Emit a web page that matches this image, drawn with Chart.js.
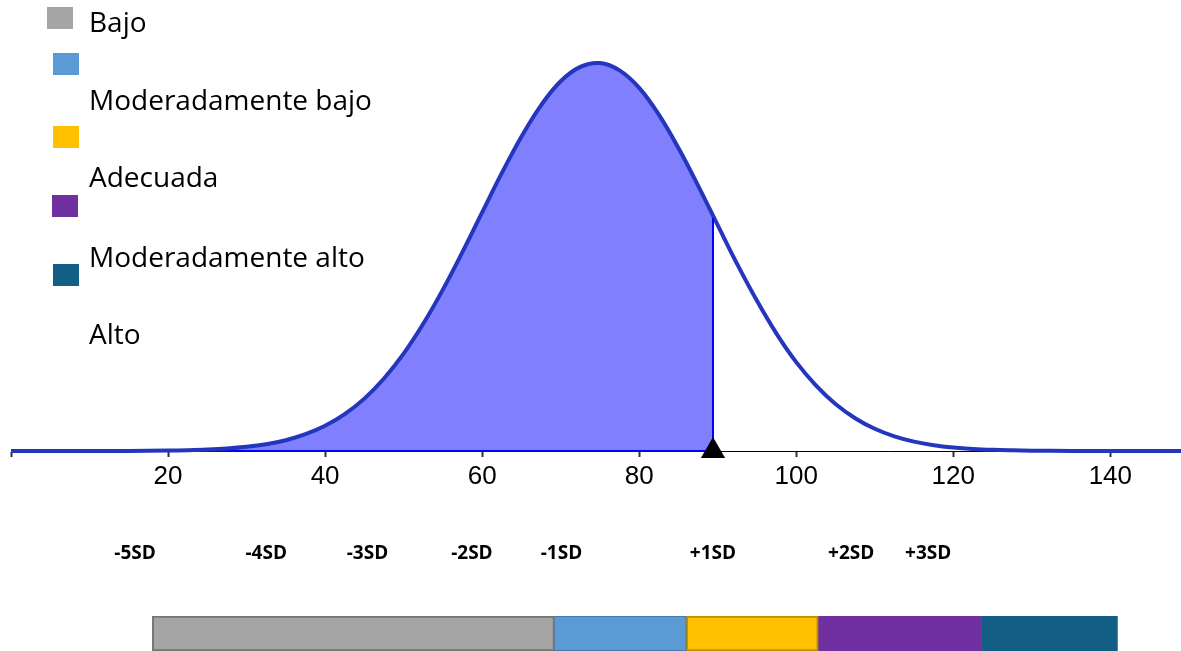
<!DOCTYPE html>
<html>
<head>
<meta charset="utf-8">
<title>Distribución</title>
<script src="https://cdn.jsdelivr.net/npm/chart.js@4"></script>
<style>
  body { margin: 0; background: #fff; width: 1181px; height: 651px; overflow: hidden; position: relative; }
  #curveChart { position: absolute; left: 0; top: 0; }
  #bandChart { position: absolute; left: 0; top: 600px; }
</style>
</head>
<body>
<canvas id="curveChart" width="1181" height="590"></canvas>
<canvas id="bandChart" width="1181" height="51"></canvas>
<script>
// Curve heights (1 = peak)
const xValues = [0, 5, 10, 15, 20, 22.5, 25, 27.5, 30, 32.5, 35, 37.5, 40, 42.5, 45, 47.5,
                 50, 52.5, 55, 57.5, 60, 62.5, 65, 67.5, 70, 72.5, 75, 77.5, 80, 82.5, 85, 87.5,
                 90, 92.5, 95, 97.5, 100, 102.5, 105, 107.5, 110, 112.5, 115, 117.5, 120, 122.5,
                 125, 127.5, 130, 135, 140, 145, 150];
const yValues = [0, 0, 0.0001, 0.0003, 0.0011, 0.002, 0.0036, 0.0063, 0.0107, 0.0175, 0.0278, 0.0432, 0.065, 0.095, 0.135, 0.187,
                 0.251, 0.328, 0.416, 0.513, 0.615, 0.716, 0.81, 0.891, 0.953, 0.99, 1.0, 0.981, 0.936, 0.867, 0.781, 0.684,
                 0.582, 0.481, 0.387, 0.302, 0.229, 0.169, 0.121, 0.0845, 0.0572, 0.0377, 0.0241, 0.015, 0.0091, 0.0053,
                 0.003, 0.0017, 0.0009, 0.0002, 0, 0, 0];

// Marked score and the curve height there
const cutoff = 89.4;
const cutoffHeight = 0.60;

const tickValues = [0, 20, 40, 60, 80, 100, 120, 140];

const sdLabels = ['-5SD', '-4SD', '-3SD', '-2SD', '-1SD', '+1SD', '+2SD', '+3SD'];
const sdPositions = [15.8, 32.5, 45.4, 58.7, 70.1, 89.4, 107.0, 116.8];

const legendLabels = ['Bajo', 'Moderadamente bajo', 'Adecuada', 'Moderadamente alto', 'Alto'];
const legendColors = ['#a5a5a5', '#5b9bd5', '#ffc000', '#7030a0', '#125e85'];

// Coloured band under the chart
const bandStarts = [18.0, 69.2, 86.0, 102.8, 123.6];
const bandEnds = [69.2, 86.0, 102.8, 123.6, 140.9];

const CURVE_BLUE = '#2336bd';
const FILL_BLUE = '#8080ff';
const X_MIN = 0, X_MAX = 149;

const curvePoints = xValues.map((x, i) => ({ x: x, y: yValues[i] }));
const filledPoints = curvePoints.filter(p => p.x < cutoff).concat([{ x: cutoff, y: cutoffHeight }]);

// Legend (squares and labels don't line up in the original) + SD labels
const annotations = {
  id: 'annotations',
  afterDraw(chart) {
    const ctx = chart.ctx;
    const xs = chart.scales.x;
    ctx.save();
    const squareTops = [7, 53, 126, 195, 264];
    const squareLefts = [47, 53, 53, 52, 53];
    const textBaselines = [32, 110, 187, 267, 344];
    legendLabels.forEach((label, i) => {
      ctx.fillStyle = legendColors[i];
      ctx.fillRect(squareLefts[i], squareTops[i], 26, 22);
      ctx.fillStyle = '#000';
      ctx.font = '28px "Open Sans"';
      ctx.textBaseline = 'alphabetic';
      ctx.textAlign = 'left';
      ctx.fillText(label, 89, textBaselines[i]);
    });
    ctx.font = 'bold 19px "Open Sans"';
    ctx.textAlign = 'center';
    sdLabels.forEach((label, i) => {
      ctx.fillText(label, xs.getPixelForValue(sdPositions[i]), 559);
    });
    ctx.restore();
  }
};

new Chart(document.getElementById('curveChart'), {
  type: 'line',
  data: {
    datasets: [
      {
        type: 'scatter',
        data: [{ x: cutoff, y: 0 }],
        pointStyle: 'triangle',
        pointRadius: 14,
        backgroundColor: '#000',
        borderColor: '#000',
        borderWidth: 0,
        clip: false
      },
      {
        data: [{ x: cutoff, y: 0 }, { x: cutoff, y: cutoffHeight }],
        borderColor: '#0000ff',
        borderWidth: 2,
        pointRadius: 0,
        fill: false,
        clip: false
      },
      {
        data: curvePoints,
        borderColor: CURVE_BLUE,
        borderWidth: 4,
        pointRadius: 0,
        tension: 0.4,
        fill: false,
        clip: false
      },
      {
        data: [{ x: X_MIN, y: 0 }, { x: cutoff, y: 0 }],
        borderColor: '#0000ff',
        borderWidth: 2,
        pointRadius: 0,
        fill: false,
        clip: false
      },
      {
        data: filledPoints,
        borderWidth: 0,
        borderColor: 'rgba(0,0,0,0)',
        backgroundColor: FILL_BLUE,
        pointRadius: 0,
        tension: 0.4,
        fill: 'origin'
      }
    ]
  },
  options: {
    responsive: false,
    animation: false,
    layout: { autoPadding: false, padding: { left: 11, right: 0, top: 0, bottom: 98 } },
    scales: {
      x: {
        type: 'linear',
        min: X_MIN,
        max: X_MAX,
        afterBuildTicks: scale => { scale.ticks = tickValues.map(v => ({ value: v })); },
        afterFit: scale => { scale.height = 41; scale.paddingLeft = 0; scale.paddingRight = 0; },
        ticks: {
          callback: v => (v === 0 ? '' : v),
          font: { family: '"Liberation Sans", Arial, sans-serif', size: 26 },
          color: '#000',
          padding: 4,
          autoSkip: false,
          maxRotation: 0
        },
        grid: { drawOnChartArea: false, drawTicks: true, tickLength: 6, tickWidth: 2, color: '#333' },
        border: { display: true, color: '#000', width: 1 }
      },
      y: { display: false, min: 0, max: 1.1624 }
    },
    plugins: { legend: { display: false }, tooltip: { enabled: false } }
  },
  plugins: [annotations]
});

new Chart(document.getElementById('bandChart'), {
  type: 'bar',
  data: {
    labels: ['Nivel'],
    datasets: legendLabels.map((label, i) => ({
      label: label,
      data: [[bandStarts[i], bandEnds[i]]],
      backgroundColor: legendColors[i],
      borderColor: ['#767676', '#41719c', '#bf9000', '#7030a0', '#125e85'][i],
      borderWidth: [2, 1, 2, 0, 0][i],
      borderSkipped: false,
      grouped: false,
      barPercentage: 1,
      categoryPercentage: 1
    }))
  },
  options: {
    indexAxis: 'y',
    responsive: false,
    animation: false,
    layout: { autoPadding: false, padding: { left: 11, right: 0, top: 16, bottom: 0 } },
    scales: {
      x: { type: 'linear', min: X_MIN, max: X_MAX, display: false },
      y: { display: false }
    },
    plugins: { legend: { display: false }, tooltip: { enabled: false } }
  }
});
</script>
</body>
</html>
